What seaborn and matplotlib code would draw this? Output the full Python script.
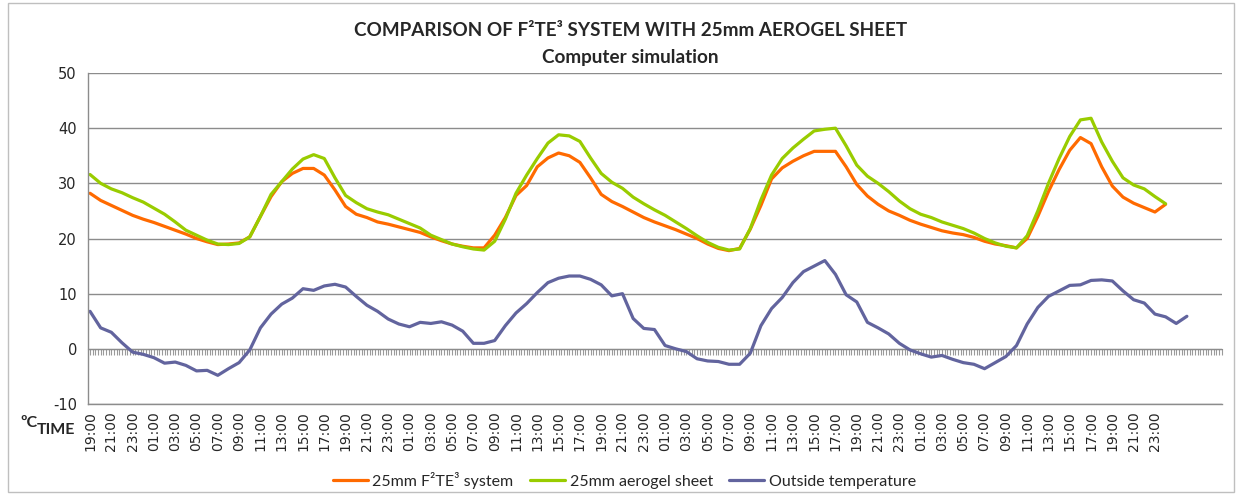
import numpy as np
import pandas as pd
import matplotlib
matplotlib.use("Agg")
import matplotlib.pyplot as plt
import seaborn as sns
from matplotlib.patches import Rectangle

# hourly readings, hour 0 = 19:00 on the first evening
SYSTEM_25MM = [
    28.2, 26.9, 26.0, 25.1, 24.2, 23.5, 22.9, 22.2, 21.5, 20.8,
    20.0, 19.4, 18.9, 19.0, 19.2, 20.3, 24.0, 27.6, 30.3, 31.8,
    32.7, 32.7, 31.5, 28.8, 25.8, 24.4, 23.8, 23.0, 22.6, 22.1,
    21.6, 21.1, 20.3, 19.6, 19.0, 18.6, 18.3, 18.3, 20.6, 23.8,
    27.8, 29.6, 33.0, 34.6, 35.5, 35.0, 33.8, 31.0, 28.0, 26.7,
    25.8, 24.8, 23.8, 23.0, 22.3, 21.6, 20.8, 20.0, 19.0, 18.2,
    17.8, 18.2, 21.7, 26.0, 30.8, 32.8, 34.0, 35.0, 35.8, 35.8,
    35.8, 33.0, 29.8, 27.7, 26.2, 25.0, 24.2, 23.3, 22.6, 22.0,
    21.4, 21.0, 20.7, 20.2, 19.5, 19.0, 18.7, 18.3, 20.0, 24.0,
    28.5, 32.5, 36.0, 38.3, 37.2, 33.0, 29.5, 27.5, 26.4, 25.6,
    24.8, 26.2,
]
AEROGEL_25MM = [
    31.6, 30.0, 29.0, 28.3, 27.4, 26.6, 25.5, 24.4, 23.0, 21.5,
    20.6, 19.7, 19.0, 18.9, 19.1, 20.3, 24.0, 28.0, 30.3, 32.6,
    34.4, 35.2, 34.5, 31.0, 27.8, 26.5, 25.4, 24.8, 24.3, 23.5,
    22.7, 21.9, 20.6, 19.8, 19.0, 18.5, 18.1, 17.9, 19.5, 23.5,
    28.2, 31.5, 34.5, 37.3, 38.8, 38.6, 37.6, 34.6, 31.8, 30.2,
    29.1, 27.5, 26.3, 25.2, 24.2, 23.0, 21.8, 20.5, 19.3, 18.4,
    17.9, 18.1, 21.8, 27.0, 31.5, 34.5, 36.4, 38.0, 39.5, 39.8,
    40.0, 36.8, 33.3, 31.3, 30.0, 28.5, 26.8, 25.4, 24.4, 23.8,
    23.0, 22.4, 21.8, 21.0, 20.0, 19.2, 18.6, 18.3, 20.5, 25.0,
    30.0, 34.5, 38.5, 41.5, 41.8, 37.5, 34.0, 31.0, 29.7, 29.0,
    27.6, 26.3,
]
OUTSIDE = [
    6.8, 3.8, 3.0, 1.1, -0.6, -1.0, -1.6, -2.6, -2.4, -3.0,
    -4.0, -3.9, -4.8, -3.6, -2.5, -0.2, 3.8, 6.3, 8.1, 9.2,
    10.9, 10.6, 11.4, 11.7, 11.2, 9.5, 7.9, 6.8, 5.4, 4.5,
    4.0, 4.8, 4.6, 4.9, 4.3, 3.2, 1.0, 1.0, 1.5, 4.2,
    6.5, 8.2, 10.2, 12.0, 12.8, 13.2, 13.2, 12.6, 11.6, 9.6,
    10.0, 5.5, 3.7, 3.5, 0.6, 0.0, -0.5, -1.8, -2.2, -2.3,
    -2.8, -2.8, -0.8, 4.2, 7.3, 9.3, 12.0, 14.0, 15.0, 16.0,
    13.5, 9.8, 8.5, 4.8, 3.8, 2.7, 1.0, -0.2, -0.9, -1.5,
    -1.2, -1.9, -2.5, -2.8, -3.6, -2.5, -1.4, 0.6, 4.5, 7.5,
    9.5, 10.5, 11.5, 11.6, 12.4, 12.5, 12.3, 10.5, 8.9, 8.3,
    6.3, 5.8, 4.6, 5.9,
]

TIME_LABELS = [
    "19:00", "21:00", "23:00",
    "01:00", "03:00", "05:00", "07:00", "09:00", "11:00",
    "13:00", "15:00", "17:00", "19:00", "21:00", "23:00",
    "01:00", "03:00", "05:00", "07:00", "09:00", "11:00",
    "13:00", "15:00", "17:00", "19:00", "21:00", "23:00",
    "01:00", "03:00", "05:00", "07:00", "09:00", "11:00",
    "13:00", "15:00", "17:00", "19:00", "21:00", "23:00",
    "01:00", "03:00", "05:00", "07:00", "09:00", "11:00",
    "13:00", "15:00", "17:00", "19:00", "21:00", "23:00",
]

SERIES = ["25mm F\u00b2TE\u00b3 system", "25mm aerogel sheet", "Outside temperature"]
COLORS = ["#FF6A00", "#99CC00", "#62649E"]

sns.set_style("white")
plt.rcParams["font.family"] = ["DejaVu Sans"]
plt.rcParams["axes.unicode_minus"] = False

frames = []
for name, vals in zip(SERIES, [SYSTEM_25MM, AEROGEL_25MM, OUTSIDE]):
    frames.append(pd.DataFrame({"hour": np.arange(len(vals)), "temp": vals, "series": name}))
df = pd.concat(frames, ignore_index=True)

fig = plt.figure(figsize=(12.36, 4.94), dpi=100)
ax = fig.add_axes([0.0712, 0.1822, 0.9175, 0.670])

sns.lineplot(data=df, x="hour", y="temp", hue="series", hue_order=SERIES,
             palette=dict(zip(SERIES, COLORS)), estimator=None, sort=False,
             linewidth=2.3, legend=False, ax=ax)

grey = "#8C8C8C"
ax.set_xlim(-0.19, 106.3)
ax.set_ylim(-10, 50)
ax.set_yticks(range(-10, 51, 10))
ax.yaxis.grid(True, color=grey, linewidth=1.0)
ax.set_axisbelow(True)
for side in ["top", "right"]:
    ax.spines[side].set_visible(False)
for side in ["left", "bottom"]:
    ax.spines[side].set_color(grey)
    ax.spines[side].set_linewidth(1.0)
ax.tick_params(axis="y", length=5, color=grey, labelsize=10.5, pad=3)
ax.set_xticks(np.arange(0, 101, 2))
ax.set_xticklabels(TIME_LABELS, rotation=90)
ax.tick_params(axis="x", length=0, labelsize=10, pad=5)
ax.set_xlabel("")
ax.set_ylabel("")

# category axis crossing at zero, with a tick per quarter hour
sec = ax.secondary_xaxis(1 / 6)
sec.set_xticks(np.arange(0, 106.3, 0.25))
sec.set_xticklabels([])
sec.tick_params(length=4, color="#9A9A9A", width=0.8, direction="out")
sec.spines["bottom"].set_color(grey)

fig.text(0.51, 0.939, "COMPARISON OF F\u00b2TE\u00b3 SYSTEM WITH 25mm AEROGEL SHEET",
         ha="center", va="center", fontsize=13.6, fontweight="bold", family="Lato")
fig.text(0.51, 0.884, "Computer simulation", ha="center", va="center",
         fontsize=13.6, fontweight="bold", family="Lato")

fig.text(20 / 1236, 1 - 427 / 494, "\u00baC", fontsize=11.5, fontweight="bold", family="Lato")
fig.text(37 / 1236, 1 - 434 / 494, "TIME", fontsize=11.5, fontweight="bold", family="Lato")

handles = ax.get_lines()[:3]
fig.legend(handles, SERIES, loc="center", bbox_to_anchor=(0.505, 0.028), ncol=3,
           frameon=False, prop={"family": "Lato", "size": 11.5}, handlelength=2.2,
           columnspacing=1.0, handletextpad=0.3)

fig.patches.append(Rectangle((8 / 1236, 0.004), 1 - 10 / 1236, 0.99, transform=fig.transFigure,
                             fill=False, edgecolor="#BFBFBF", linewidth=1.0))

fig.savefig("out.png", dpi=100)
